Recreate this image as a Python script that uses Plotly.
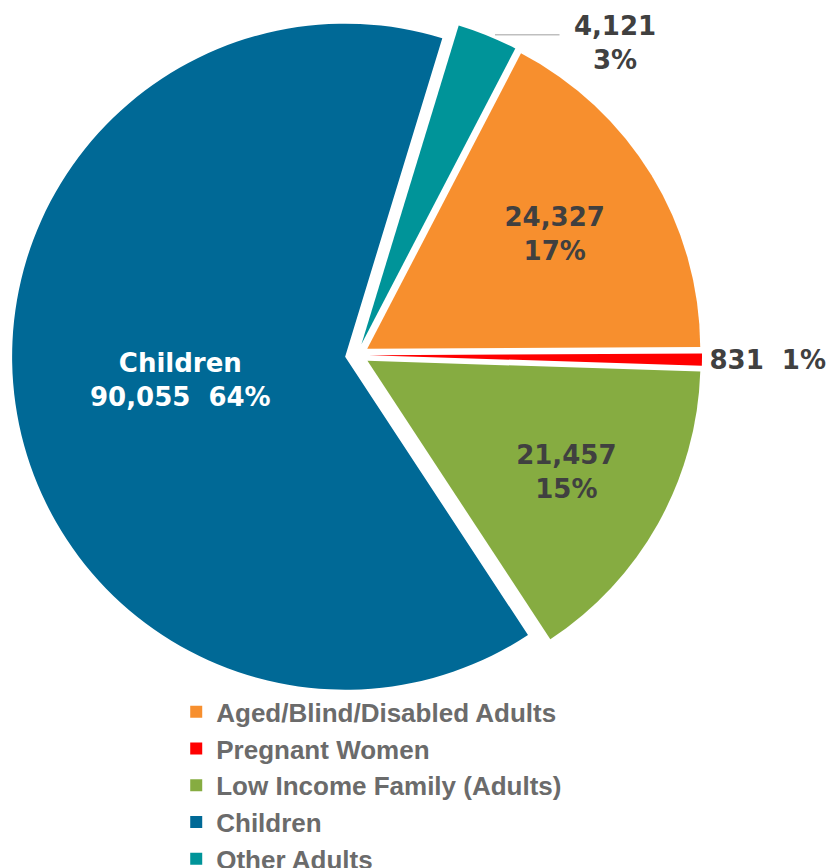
import plotly.graph_objects as go

categories = ["Aged/Blind/Disabled Adults", "Pregnant Women", "Low Income Family (Adults)", "Children", "Other Adults"]
counts = [24327, 831, 21457, 90055, 4121]
percents = ["17%", "1%", "15%", "64%", "3%"]
colors = ["#F78F2E", "#FF0000", "#86AC41", "#006996", "#009499"]

templates = [
    "%{value:,}<br>%{customdata}",
    "%{value:,}  %{customdata}",
    "%{value:,}<br>%{customdata}",
    "%{label}<br>%{value:,}  %{customdata}",
    "",
]
positions = ["inside", "outside", "inside", "inside", "none"]
text_colors = ["#404040", "#404040", "#404040", "#FFFFFF", "#404040"]

label_font = dict(family="DejaVu Sans, sans-serif", size=26, color="#404040", weight="bold")

fig = go.Figure(go.Pie(
    labels=categories,
    values=counts,
    customdata=percents,
    texttemplate=templates,
    textposition=positions,
    sort=False,
    direction="clockwise",
    rotation=27.5,
    pull=[0.036] * 5,
    marker=dict(colors=colors, line=dict(width=0)),
    textfont=dict(family="DejaVu Sans, sans-serif", size=26, color=text_colors, weight="bold"),
    insidetextorientation="horizontal",
    automargin=False,
    hoverinfo="label+value+percent",
))

# outside label with leader line for the small "Other Adults" slice
fig.add_annotation(
    xref="paper", yref="paper",
    x=0.700, y=0.964,
    ax=120, ay=0,
    text=f"{counts[4]:,}<br>{percents[4]}",
    showarrow=True, arrowhead=0, arrowwidth=1.5, arrowcolor="#BFBFBF",
    standoff=0, startstandoff=0,
    width=108, height=80, valign="bottom",
    font=label_font,
    align="center",
)

fig.update_layout(
    width=838, height=868,
    margin=dict(l=4, r=144, t=2, b=176, autoexpand=False),
    paper_bgcolor="white",
    plot_bgcolor="white",
    showlegend=True,
    legend=dict(
        orientation="v",
        x=0.238, xanchor="left",
        y=0.017, yanchor="top",
        bgcolor="rgba(0,0,0,0)",
        font=dict(family="Liberation Sans, Arial, sans-serif", size=26, color="#6B6B6B", weight="bold"),
        itemwidth=30,
        tracegroupgap=0,
        traceorder="normal",
    ),
)

fig.write_html("out.html")
